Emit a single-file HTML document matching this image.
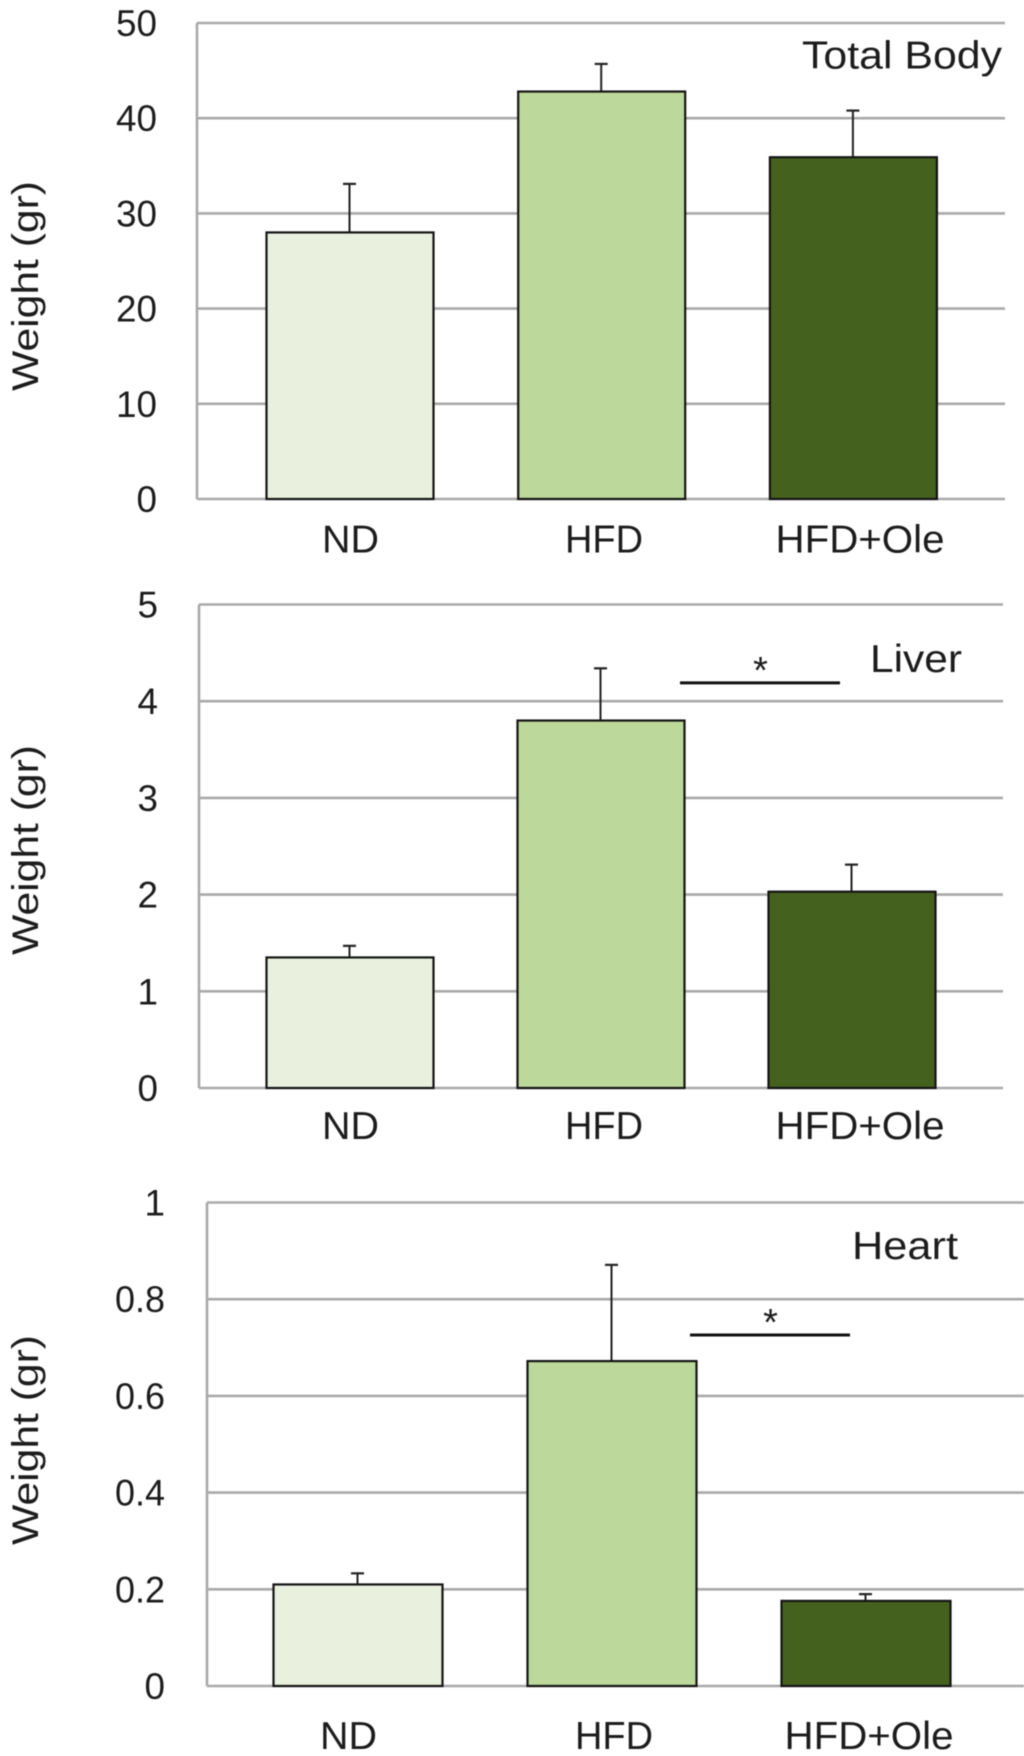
<!DOCTYPE html>
<html lang="en">
<head>
<meta charset="utf-8">
<title>Organ weights by diet</title>
<style>
html,body{margin:0;padding:0;background:#fff;}
svg{display:block;filter:blur(0.45px);}
text{font-family:"Liberation Sans",sans-serif;fill:#1c1c1c;}
</style>
</head>
<body>
<svg id="figure" xmlns="http://www.w3.org/2000/svg" width="1024" height="1756" viewBox="0 0 1024 1756"></svg>
<script>
const categories = ["ND", "HFD", "HFD+Ole"];
const bodyTicks = [0, 10, 20, 30, 40, 50];
const bodyTickLabels = ["0", "10", "20", "30", "40", "50"];
const bodyMeans = [28, 42.8, 35.9];
const bodyErrorTops = [33.1, 45.7, 40.8];
const liverTicks = [0, 1, 2, 3, 4, 5];
const liverTickLabels = ["0", "1", "2", "3", "4", "5"];
const liverMeans = [1.35, 3.8, 2.03];
const liverErrorTops = [1.47, 4.34, 2.31];
const liverSignificance = [4.19];
const heartTicks = [0, 0.2, 0.4, 0.6, 0.8, 1];
const heartTickLabels = ["0", "0.2", "0.4", "0.6", "0.8", "1"];
const heartMeans = [0.21, 0.672, 0.176];
const heartErrorTops = [0.233, 0.871, 0.19];
const heartSignificance = [0.726];

const SVG_NS = "http://www.w3.org/2000/svg";
const BAR_FILLS = ["#e9f1de", "#bcd89a", "#45611e"];
const CAT_TEXT_WIDTHS = [57, 78, 169];
const figure = document.getElementById("figure");

function make(tag, attrs, parent, content) {
  const node = document.createElementNS(SVG_NS, tag);
  for (const key in attrs) node.setAttribute(key, attrs[key]);
  if (content !== undefined) node.textContent = content;
  parent.appendChild(node);
  return node;
}

function tickTextWidth(label) {
  let w = 0;
  for (const ch of label) w += ch === "." ? 9 : 20.5;
  return w;
}

function drawPanel(p) {
  const group = make("g", {}, figure);
  
  

  const yMax = p.ticks[p.ticks.length - 1];
  const yScale = function (v) { return p.bottom - (v / yMax) * (p.bottom - p.top); };
  const xCenter = function (i) { return p.firstCenter + i * p.step; };

  const yAxis = make("line", {x1: p.left, x2: p.left, y1: yScale(yMax), y2: p.bottom, stroke: "#a9a9a9", "stroke-width": 2.6}, group);
  
  

  p.ticks.forEach(function (t, i) {
    const grid = make("line", {x1: p.left, x2: p.right, y1: yScale(t), y2: yScale(t), stroke: "#a9a9a9", "stroke-width": 2.6}, group);
    
    
    const text = p.tickLabels[i];
    const label = make("text", {x: p.tickEnd, y: yScale(t) + 13, "text-anchor": "end", "font-size": 37, textLength: tickTextWidth(text), lengthAdjust: "spacingAndGlyphs"}, group, text);
    
    
  });

  p.means.forEach(function (v, i) {
    const cx = xCenter(i);
    const err = make("line", {x1: cx - 0.5, x2: cx - 0.5, y1: yScale(p.errorTops[i]), y2: yScale(v), stroke: "#222", "stroke-width": 2}, group);
    
    
    const cap = make("line", {x1: cx - 7, x2: cx + 6, y1: yScale(p.errorTops[i]), y2: yScale(p.errorTops[i]), stroke: "#222", "stroke-width": 2.2}, group);
    
    
    const bar = make("rect", {x: cx - p.barWidth / 2, y: yScale(v), width: p.barWidth, height: p.bottom - yScale(v), fill: BAR_FILLS[i], stroke: "#141414", "stroke-width": 2.2}, group);
    
    
    const cat = make("text", {x: p.catCenters[i], y: p.catBaseline, "text-anchor": "middle", "font-size": 39, textLength: CAT_TEXT_WIDTHS[i], lengthAdjust: "spacingAndGlyphs"}, group, categories[i]);
    
    
  });

  const yTitle = make("text", {transform: "translate(38," + p.titleCenter + ") rotate(-90)", "text-anchor": "middle", "font-size": 37, textLength: 210, lengthAdjust: "spacingAndGlyphs"}, group, "Weight (gr)");
  
  

  const organ = make("text", {x: p.organX, y: p.organY, "font-size": 39, textLength: p.organWidth, lengthAdjust: "spacingAndGlyphs"}, group, p.organ);
  
  

  if (p.significance) {
    const sy = yScale(p.significance[0]);
    const sig = make("line", {x1: p.sigStart, x2: p.sigEnd, y1: sy, y2: sy, stroke: "#111", "stroke-width": 3}, group);
    
    
    const star = make("text", {x: (p.sigStart + p.sigEnd) / 2 + 0.5, y: sy, "text-anchor": "middle", "font-size": 38}, group, "*");
    
    
  }
}

drawPanel({
  name: "total-body", organ: "Total Body", ticks: bodyTicks, tickLabels: bodyTickLabels,
  means: bodyMeans, errorTops: bodyErrorTops,
  left: 197, right: 1005, top: 23, bottom: 499, tickEnd: 157,
  firstCenter: 350, step: 251.7, barWidth: 167,
  catCenters: [350.5, 604, 860], catBaseline: 552.5, titleCenter: 286,
  organX: 802, organY: 68.5, organWidth: 200
});

drawPanel({
  name: "liver", organ: "Liver", ticks: liverTicks, tickLabels: liverTickLabels,
  means: liverMeans, errorTops: liverErrorTops, significance: liverSignificance,
  left: 199, right: 1003, top: 604.5, bottom: 1088, tickEnd: 158,
  firstCenter: 350, step: 251, barWidth: 167,
  catCenters: [350.5, 604, 860], catBaseline: 1139, titleCenter: 850,
  organX: 870, organY: 672, organWidth: 92,
  sigStart: 680, sigEnd: 840
});

drawPanel({
  name: "heart", organ: "Heart", ticks: heartTicks, tickLabels: heartTickLabels,
  means: heartMeans, errorTops: heartErrorTops, significance: heartSignificance,
  left: 207, right: 1024, top: 1202.5, bottom: 1686, tickEnd: 165,
  firstCenter: 358, step: 254, barWidth: 169,
  catCenters: [348.5, 614, 869], catBaseline: 1749, titleCenter: 1440,
  organX: 852, organY: 1259, organWidth: 106,
  sigStart: 690, sigEnd: 850
});
</script>
</body>
</html>
